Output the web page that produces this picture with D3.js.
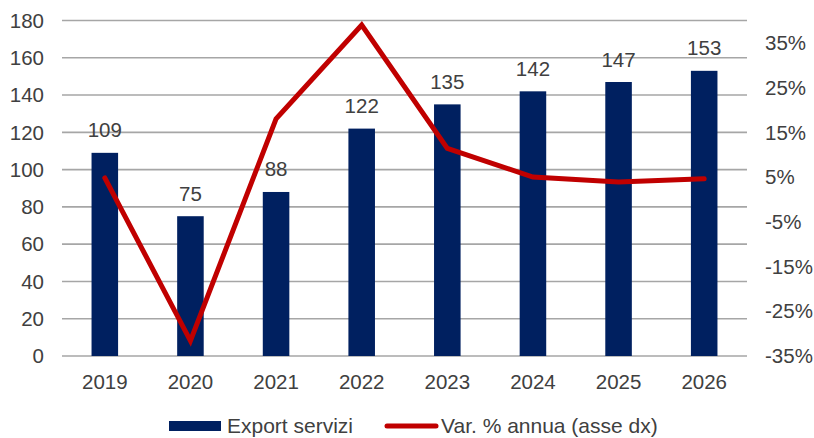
<!DOCTYPE html>
<html>
<head>
<meta charset="utf-8">
<script src="https://cdn.jsdelivr.net/npm/d3@7"></script>
<style>
  body { margin: 0; background: #fff; }
  text { font-family: "Liberation Sans", Arial, sans-serif; fill: #404040; }
</style>
</head>
<body>
<div id="chart"></div>
<script>
// data
const years = ["2019", "2020", "2021", "2022", "2023", "2024", "2025", "2026"];
const exportServizi = [109, 75, 88, 122, 135, 142, 147, 153];
const varAnnua = [4.8, -31.6, 18.0, 39.0, 11.4, 5.0, 3.9, 4.6];
const leftTicks = [0, 20, 40, 60, 80, 100, 120, 140, 160, 180];
const rightTicks = [-35, -25, -15, -5, 5, 15, 25, 35];

const width = 814, height = 438;
const plot = {left: 62, right: 747, top: 20.5, bottom: 356};

let svg = d3.select("#chart")
    .append("svg")
    .attr("width", width)
    .attr("height", height);

let x = d3.scaleBand()
    .domain(years)
    .range([plot.left, plot.right])
    .paddingInner(0.69)
    .paddingOuter(0.345);

let yL = d3.scaleLinear().domain([0, 180]).range([plot.bottom, plot.top]);
let yR = d3.scaleLinear().domain([-35, 40]).range([plot.bottom, plot.top]);

// gridlines
svg.append("g")
    .selectAll("line")
    .data(leftTicks)
    .enter()
    .append("line")
    .attr("x1", plot.left)
    .attr("x2", plot.right)
    .attr("y1", d => yL(d))
    .attr("y2", d => yL(d))
    .attr("stroke", "#a6a6a6")
    .attr("stroke-width", 1.6);

// left axis labels
svg.append("g")
    .selectAll("text")
    .data(leftTicks)
    .enter()
    .append("text")
    .attr("x", 44)
    .attr("y", d => yL(d))
    .attr("dy", "0.35em")
    .style("text-anchor", "end")
    .style("font-size", "20.5px")
    .text(d => d);

// right axis labels
svg.append("g")
    .selectAll("text")
    .data(rightTicks)
    .enter()
    .append("text")
    .attr("x", 765)
    .attr("y", d => yR(d))
    .attr("dy", "0.35em")
    .style("text-anchor", "start")
    .style("font-size", "20.5px")
    .text(d => d + "%");

// x labels
svg.append("g")
    .selectAll("text")
    .data(years)
    .enter()
    .append("text")
    .attr("x", d => x(d) + x.bandwidth() / 2)
    .attr("y", 389)
    .style("text-anchor", "middle")
    .style("font-size", "20.5px")
    .text(d => d);

// bars
svg.append("g")
    .selectAll("rect")
    .data(exportServizi)
    .enter()
    .append("rect")
    .attr("x", (d, i) => x(years[i]))
    .attr("y", d => yL(d))
    .attr("width", x.bandwidth())
    .attr("height", d => yL(0) - yL(d))
    .attr("fill", "#002060");

// bar value labels
svg.append("g")
    .selectAll("text")
    .data(exportServizi)
    .enter()
    .append("text")
    .attr("x", (d, i) => x(years[i]) + x.bandwidth() / 2)
    .attr("y", d => yL(d) - 15.5)
    .style("text-anchor", "middle")
    .style("font-size", "20.5px")
    .text(d => d);

// growth line (right axis)
let line = d3.line()
    .x((d, i) => x(years[i]) + x.bandwidth() / 2)
    .y(d => yR(d));

svg.append("path")
    .datum(varAnnua)
    .attr("d", line)
    .attr("fill", "none")
    .attr("stroke", "#c00000")
    .attr("stroke-width", 5)
    .attr("stroke-linejoin", "miter")
    .attr("stroke-linecap", "round");

// legend
let legend = svg.append("g");
legend.append("rect")
    .attr("x", 169).attr("y", 421)
    .attr("width", 52).attr("height", 10)
    .attr("fill", "#002060");
legend.append("text")
    .attr("x", 227).attr("y", 433)
    .style("font-size", "21px")
    .text("Export servizi");
legend.append("line")
    .attr("x1", 387).attr("x2", 436)
    .attr("y1", 426).attr("y2", 426)
    .attr("stroke", "#c00000")
    .attr("stroke-width", 5)
    .attr("stroke-linecap", "round");
legend.append("text")
    .attr("x", 441).attr("y", 433)
    .style("font-size", "21px")
    .text("Var. % annua (asse dx)");
</script>
</body>
</html>
